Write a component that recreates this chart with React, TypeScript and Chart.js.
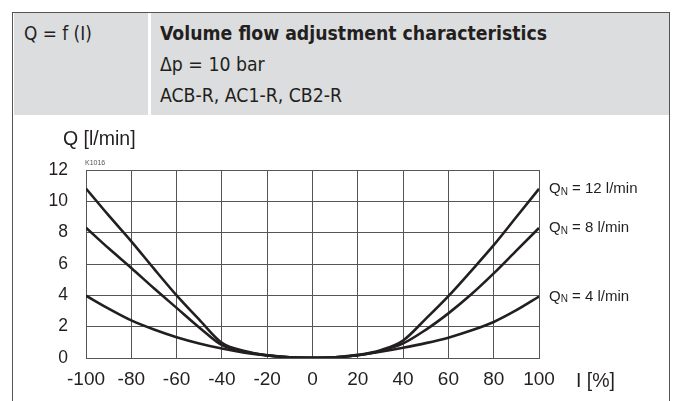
import React, { useEffect, useRef } from "react";
import { Chart, registerables } from "chart.js";

Chart.register(...registerables);

const xValues = [-100, -90, -80, -70, -60, -50, -40, -30, -20, -10, 0, 10, 20, 30, 40, 50, 60, 70, 80, 90, 100];
const q12 = [10.82, 9.1, 7.45, 5.7, 4.0, 2.45, 0.97, 0.45, 0.18, 0.05, 0.02, 0.05, 0.2, 0.5, 1.12, 2.5, 3.95, 5.55, 7.2, 9.0, 10.8];
const q8 = [8.32, 7.0, 5.75, 4.45, 3.2, 1.95, 0.82, 0.4, 0.17, 0.05, 0.02, 0.05, 0.18, 0.45, 0.93, 1.8, 2.85, 4.05, 5.4, 6.85, 8.3];
const q4 = [3.98, 3.15, 2.4, 1.82, 1.33, 0.93, 0.6, 0.34, 0.16, 0.05, 0.02, 0.05, 0.18, 0.4, 0.66, 0.95, 1.3, 1.75, 2.3, 3.05, 3.92];
const seriesNames = ["12", "8", "4"];
const xTickLabels = ["-100", "-80", "-60", "-40", "-20", "0", "20", "40", "60", "80", "100"];
const yTickLabels = ["0", "2", "4", "6", "8", "10", "12"];

const INK = "#231f20";
const GRID = "#555555";

const labelPlugin = {
  id: "qnLabels",
  afterDatasetsDraw(chart: any) {
    const ctx = chart.ctx;
    const area = chart.chartArea;
    ctx.save();
    chart.data.datasets.forEach((ds: any, i: number) => {
      const meta = chart.getDatasetMeta(i);
      const pt = meta.data[meta.data.length - 1];
      if (!pt) return;
      let x = area.right + 10;
      const y = pt.y;
      ctx.fillStyle = INK;
      ctx.textBaseline = "middle";
      ctx.textAlign = "left";
      ctx.font = "15px 'Liberation Sans', Arial, sans-serif";
      ctx.fillText("Q", x, y);
      x += ctx.measureText("Q").width;
      ctx.font = "10px 'Liberation Sans', Arial, sans-serif";
      ctx.fillText("N", x, y + 3);
      x += ctx.measureText("N").width;
      ctx.font = "15px 'Liberation Sans', Arial, sans-serif";
      ctx.fillText(" = " + seriesNames[i] + " l/min", x, y);
    });
    ctx.restore();
  },
};

export default function App() {
  const ref = useRef<HTMLCanvasElement>(null);
  useEffect(() => {
    if (!ref.current) return;
    const mk = (vals: number[]) => xValues.map((x, i) => ({ x, y: vals[i] }));
    const dsBase = {
      borderColor: INK,
      borderWidth: 2.6,
      pointRadius: 0,
      fill: false,
      cubicInterpolationMode: "monotone" as const,
    };
    const chart = new Chart(ref.current, {
      type: "line",
      data: {
        datasets: [
          { ...dsBase, label: "QN = 12 l/min", data: mk(q12) },
          { ...dsBase, label: "QN = 8 l/min", data: mk(q8) },
          { ...dsBase, label: "QN = 4 l/min", data: mk(q4) },
        ],
      },
      options: {
        responsive: false,
        animation: false,
        devicePixelRatio: 1,
        layout: { padding: { top: 170, right: 137, left: 0, bottom: 0 } },
        plugins: { legend: { display: false }, tooltip: { enabled: false } },
        scales: {
          x: {
            type: "linear",
            min: -100,
            max: 100,
            afterFit: (s: any) => { s.height = 43; },
            afterBuildTicks: (s: any) => {
              s.ticks = xTickLabels.map((t) => ({ value: Number(t) }));
            },
            ticks: {
              color: INK,
              padding: 10,
              maxRotation: 0,
              autoSkip: false,
              font: { family: "'Liberation Sans', Arial, sans-serif", size: 19 },
              callback: (v: any) => String(v),
            },
            grid: { color: GRID, lineWidth: 1, drawTicks: false },
            border: { display: true, color: GRID, width: 1 },
          },
          y: {
            type: "linear",
            min: 0,
            max: 12,
            afterFit: (s: any) => { s.width = 86; },
            afterBuildTicks: (s: any) => {
              s.ticks = yTickLabels.map((t) => ({ value: Number(t) }));
            },
            ticks: {
              color: INK,
              padding: 18,
              autoSkip: false,
              font: { family: "'Liberation Sans', Arial, sans-serif", size: 17.5 },
              callback: (v: any) => String(v),
            },
            grid: { color: GRID, lineWidth: 1, drawTicks: false },
            border: { display: true, color: GRID, width: 1 },
          },
        },
      },
      plugins: [labelPlugin],
    });
    return () => chart.destroy();
  }, []);

  const narrow = "'DejaVu Sans Condensed', 'Liberation Sans Narrow', 'Liberation Sans', sans-serif";
  const sans = "'Liberation Sans', Arial, sans-serif";

  return (
    <div style={{ position: "fixed", left: 0, top: 0, width: 676, height: 401, background: "#fff", overflow: "hidden" }}>
      <canvas ref={ref} width={676} height={401} style={{ position: "absolute", left: 0, top: 0, width: 676, height: 401 }} />
      <div style={{ position: "absolute", left: 12, top: 11.5, width: 658, height: 420, border: "1.5px solid #555", boxSizing: "border-box", pointerEvents: "none" }} />
      <div style={{ position: "absolute", left: 13.5, top: 13, width: 655, height: 102, background: "#dcdddf" }} />
      <div style={{ position: "absolute", left: 148, top: 13, width: 2.5, height: 102, background: "#fff" }} />
      <div style={{ position: "absolute", left: 24, top: 18, font: `20px ${narrow}`, lineHeight: "31px", color: INK, whiteSpace: "nowrap", transform: "scaleX(0.94)", transformOrigin: "0 0" }}>Q = f (I)</div>
      <div style={{ position: "absolute", left: 160, top: 18, font: `20px ${narrow}`, lineHeight: "31px", color: INK, whiteSpace: "nowrap", transform: "scaleX(0.963)", transformOrigin: "0 0" }}>
        <div style={{ fontWeight: "bold" }}>Volume flow adjustment characteristics</div>
        <div>Δp = 10 bar</div>
        <div>ACB-R, AC1-R, CB2-R</div>
      </div>
      <div style={{ position: "absolute", left: 63, top: 126, font: `19.5px ${sans}`, lineHeight: "24px", color: INK, whiteSpace: "nowrap" }}>Q [l/min]</div>
      <div style={{ position: "absolute", left: 85, top: 159, font: `7px ${sans}`, lineHeight: "8px", color: "#555", whiteSpace: "nowrap" }}>K1016</div>
      <div style={{ position: "absolute", left: 576, top: 368, font: `19.5px ${sans}`, lineHeight: "24px", color: INK, whiteSpace: "nowrap" }}>I [%]</div>
    </div>
  );
}
